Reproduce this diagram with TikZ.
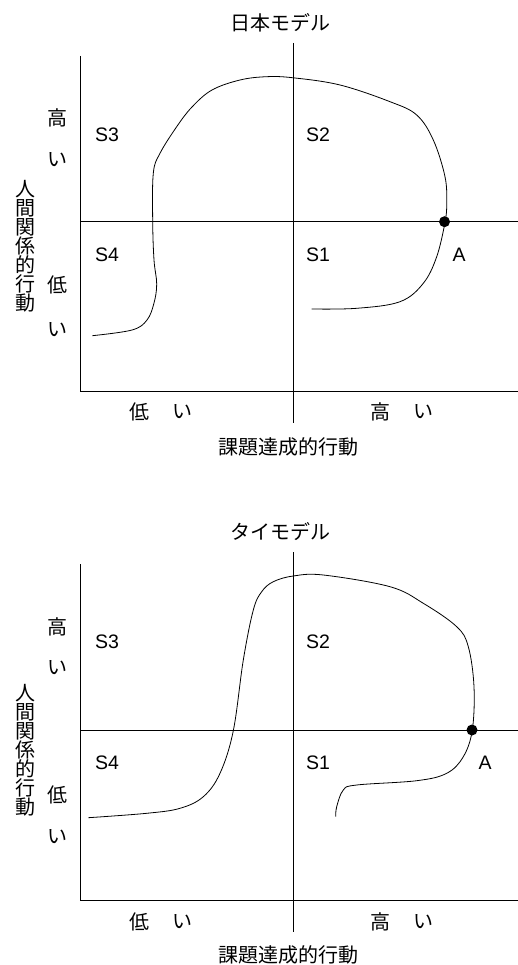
\documentclass[tikz,border=0pt]{standalone}
\usepackage{fontspec}
\setmainfont{Liberation Sans}
\newfontfamily\jpfont{Noto Sans CJK JP}
\begin{document}
\begin{tikzpicture}[x=1pt,y=-1pt,
  axis/.style={line width=1pt,black},
  curve/.style={line width=0.8pt,black},
  jp/.style={font=\jpfont\fontsize{20}{20}\selectfont,inner sep=0pt},
  lat/.style={font=\fontsize{19.5}{20}\selectfont,inner sep=0pt},
  vlab/.style={font=\jpfont\fontsize{20}{19}\selectfont,inner sep=0pt,align=center},
  pt/.style={circle,fill=black,inner sep=0pt,minimum size=11pt}]
\useasboundingbox (0,0) rectangle (518,965);
% ===== top chart =====
\coordinate (t-lt) at (80,56);
\coordinate (t-lb) at (80,391.7);
\coordinate (t-rb) at (518,391.7);
\coordinate (t-ml) at (80,221.7);
\coordinate (t-mr) at (518,221.7);
\coordinate (t-vt) at (293.3,43);
\coordinate (t-vb) at (293.3,423);
\draw[axis] (t-lt) -- (t-lb) -- (t-rb);
\draw[axis] (t-ml) -- (t-mr);
\draw[axis] (t-vt) -- (t-vb);
\node[jp] (t-title) at (280,23) {日本モデル};
\node[lat] (t-s3) at (107,135) {S3};
\node[lat] (t-s2) at (318,135) {S2};
\node[lat] (t-s4) at (107,255) {S4};
\node[lat] (t-s1) at (318,255) {S1};
\node[lat] (t-a) at (459,255) {A};
\node[jp] (t-yh1) at (57,118) {高};
\node[jp] (t-yh2) at (57,160) {い};
\node[jp] (t-yl1) at (57,285) {低};
\node[jp] (t-yl2) at (57,330) {い};
\node[vlab] (t-ylab) at (25,246) {人\\間\\関\\係\\的\\行\\動};
\node[jp] (t-xl1) at (139,412) {低};
\node[jp] (t-xl2) at (182,412) {い};
\node[jp] (t-xh1) at (380,412) {高};
\node[jp] (t-xh2) at (423,412) {い};
\node[jp] (t-xlab) at (288,447) {課題達成的行動};
\draw[curve] plot[smooth,tension=0.6] coordinates {
 (92.3,335.7) (132,330) (147,320) (154,303) (156.7,284) (154,260) (152.7,222.3)
 (153.3,173.3) (160,153.3) (176.7,126.7) (192,107) (212,90) (240,80)
 (266.7,76.7) (293.3,77.8) (340,85) (390,101.7) (416.7,115) (433.3,140)
 (445,176.7) (446.7,203.3) (445,222.3) (436.7,256.7) (423.3,283.3)
 (400,301.7) (356.7,308.3) (311.7,309)};
\node[pt] (t-dot) at (444.5,221.7) {};
% ===== bottom chart =====
\coordinate (b-lt) at (80,564);
\coordinate (b-lb) at (80,900);
\coordinate (b-rb) at (518,900);
\coordinate (b-ml) at (80,730);
\coordinate (b-mr) at (518,730);
\coordinate (b-vt) at (293.3,552);
\coordinate (b-vb) at (293.3,932);
\draw[axis] (b-lt) -- (b-lb) -- (b-rb);
\draw[axis] (b-ml) -- (b-mr);
\draw[axis] (b-vt) -- (b-vb);
\node[jp] (b-title) at (280,532) {タイモデル};
\node[lat] (b-s3) at (107,642) {S3};
\node[lat] (b-s2) at (318,642) {S2};
\node[lat] (b-s4) at (107,763) {S4};
\node[lat] (b-s1) at (318,763) {S1};
\node[lat] (b-a) at (485,763) {A};
\node[jp] (b-yh1) at (57,627) {高};
\node[jp] (b-yh2) at (57,668) {い};
\node[jp] (b-yl1) at (57,795) {低};
\node[jp] (b-yl2) at (57,837) {い};
\node[vlab] (b-ylab) at (25,750) {人\\間\\関\\係\\的\\行\\動};
\node[jp] (b-xl1) at (139,922) {低};
\node[jp] (b-xl2) at (182,922) {い};
\node[jp] (b-xh1) at (380,922) {高};
\node[jp] (b-xh2) at (423,922) {い};
\node[jp] (b-xlab) at (288,955) {課題達成的行動};
\draw[curve] plot[smooth,tension=0.6] coordinates {
 (88.3,817.7) (146.7,813.3) (180,808.3) (203.3,796.7) (220,773.3) (233.3,730.7)
 (243.3,660) (253.3,610) (261.7,591.7) (273.3,581.7) (293.3,576) (323.3,575)
 (390,586.7) (423.3,603.3) (456.7,626.7) (468.3,646.7) (474,686.7) (472.3,730)
 (463.3,756.7) (446.7,773.3) (416.7,780.7) (356.7,785) (343.3,790)
 (336.7,806.7) (335.7,816.7)};
\node[pt] (b-dot) at (472,730) {};
\end{tikzpicture}
\end{document}
